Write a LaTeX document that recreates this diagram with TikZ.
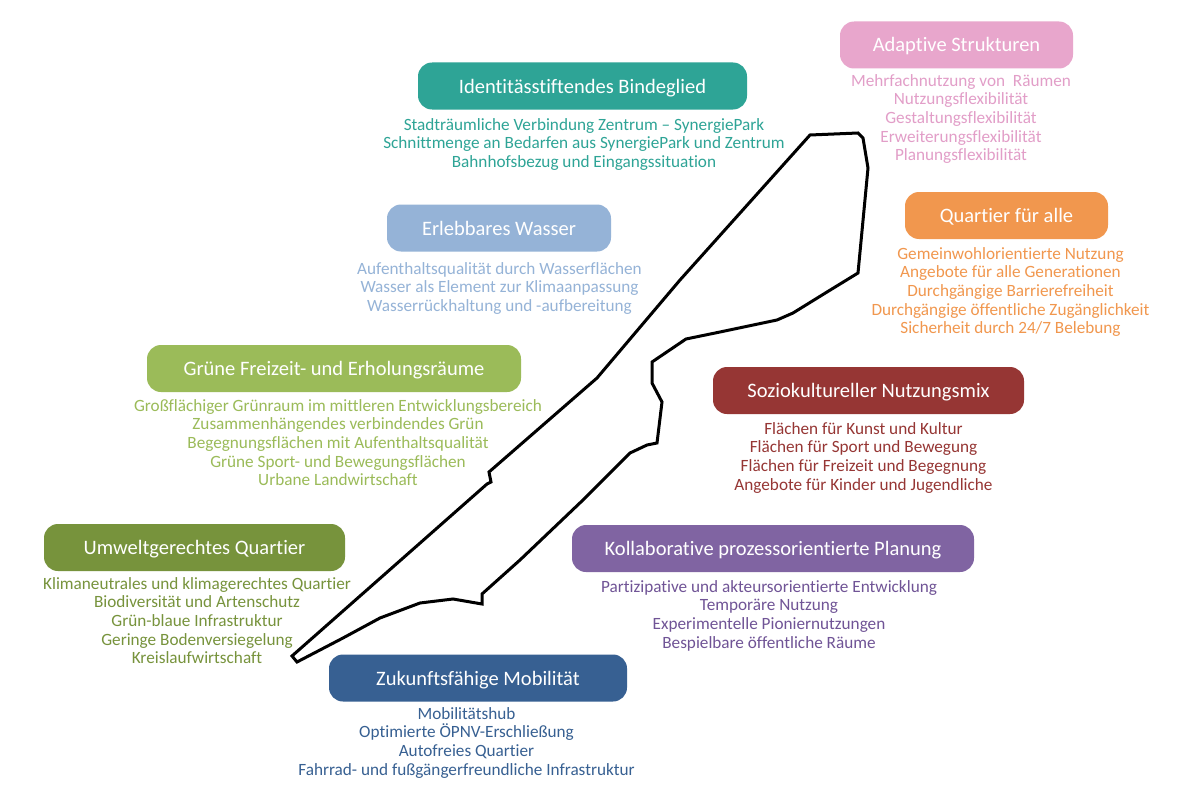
\documentclass[tikz,border=0pt]{standalone}
\usepackage{fontspec}
\setmainfont[Ligatures={NoCommon}]{Carlito}
\definecolor{cteal}{RGB}{46,164,150}
\definecolor{cpink}{RGB}{232,166,204}
\definecolor{cpinktxt}{RGB}{226,158,200}
\definecolor{clblue}{RGB}{149,179,215}
\definecolor{corange}{RGB}{241,151,78}
\definecolor{cgreen}{RGB}{155,187,89}
\definecolor{cred}{RGB}{150,54,52}
\definecolor{colive}{RGB}{119,147,60}
\definecolor{cpurple}{RGB}{128,100,162}
\definecolor{cpurpletxt}{RGB}{112,84,150}
\definecolor{cdblue}{RGB}{55,96,146}
\tikzset{
  hbox/.style={rounded corners=14pt, text=white, inner sep=0pt, minimum height=47pt,
    text height=16pt, text depth=2pt,
    font=\fontsize{20.5}{24}\selectfont},
  body/.style={anchor=north, align=center, inner sep=0pt,
    font=\fontsize{17.2}{18.7}\selectfont},
  outline/.style={draw=black, line width=3pt}
}
\begin{document}
\begin{tikzpicture}[x=1pt,y=-1pt]
\useasboundingbox (0,0) rectangle (1200,800);
\fill[white] (0,0) rectangle (1200,800);

% outline of the site
\draw[outline] (810,135) -- (858,133) -- (863,138) -- (868,168) -- (858,273) -- (827,292)
  -- (793,313) -- (777,320) -- (720,332) -- (686,339) -- (652,362) -- (652,383)
  -- (662,402) -- (657,443) -- (647,445) -- (630,453) -- (583,500) -- (520,560)
  -- (482,594) -- (482,604) -- (453,599) -- (420,603) -- (380,618) -- (343,638)
  -- (297,662) -- (292,656) -- (487,484) -- (491,482) -- (489,472) -- (597,378)
  -- (680,280) -- cycle;

% Identitaet
\node[hbox, fill=cteal, minimum width=329pt] (t1) at (582.5,86) {Identitässtiftendes Bindeglied};
\node[body, text=cteal] (b1) at (584,118) {Stadträumliche Verbindung Zentrum – SynergiePark\\Schnittmenge an Bedarfen aus SynergiePark und Zentrum\\Bahnhofsbezug und Eingangssituation};

% Adaptive
\node[hbox, fill=cpink, minimum width=233pt] (t2) at (956.5,45) {Adaptive Strukturen};
\node[body, text=cpinktxt] (b2) at (961,74) {Mehrfachnutzung von\ \ Räumen\\Nutzungsflexibilität\\Gestaltungsflexibilität\\Erweiterungsflexibilität\\Planungsflexibilität};

% Wasser
\node[hbox, fill=clblue, minimum width=224pt] (t3) at (499,228) {Erlebbares Wasser};
\node[body, text=clblue] (b3) at (499.5,262) {Aufenthaltsqualität durch Wasserflächen\\Wasser als Element zur Klimaanpassung\\Wasserrückhaltung und -aufbereitung};

% Quartier fuer alle
\node[hbox, fill=corange, minimum width=203pt] (t4) at (1006.5,215.5) {Quartier für alle};
\node[body, text=corange] (b4) at (1010.5,247) {Gemeinwohlorientierte Nutzung\\Angebote für alle Generationen\\Durchgängige Barrierefreiheit\\Durchgängige öffentliche Zugänglichkeit\\Sicherheit durch 24/7 Belebung};

% Gruene Freizeit
\node[hbox, fill=cgreen, minimum width=374pt] (t5) at (334,368.5) {Grüne Freizeit- und Erholungsräume};
\node[body, text=cgreen] (b5) at (338,399) {Großflächiger Grünraum im mittleren Entwicklungsbereich\\Zusammenhängendes verbindendes Grün\\Begegnungsflächen mit Aufenthaltsqualität\\Grüne Sport- und Bewegungsflächen\\Urbane Landwirtschaft};

% Soziokultureller
\node[hbox, fill=cred, minimum width=311pt] (t6) at (868.5,390.5) {Soziokultureller Nutzungsmix};
\node[body, text=cred] (b6) at (863.5,422) {Flächen für Kunst und Kultur\\Flächen für Sport und Bewegung\\Flächen für Freizeit und Begegnung\\Angebote für Kinder und Jugendliche};

% Umwelt
\node[hbox, fill=colive, minimum width=301pt] (t7) at (194.5,547.5) {Umweltgerechtes Quartier};
\node[body, text=colive] (b7) at (197,577) {Klimaneutrales und klimagerechtes Quartier\\Biodiversität und Artenschutz\\Grün-blaue Infrastruktur\\Geringe Bodenversiegelung\\Kreislaufwirtschaft};

% Kollaborativ
\node[hbox, fill=cpurple, minimum width=402pt] (t8) at (773,548.5) {Kollaborative prozessorientierte Planung};
\node[body, text=cpurpletxt] (b8) at (769,580) {Partizipative und akteursorientierte Entwicklung\\Temporäre Nutzung\\Experimentelle Pioniernutzungen\\Bespielbare öffentliche Räume};

% Mobilitaet
\node[hbox, fill=cdblue, minimum width=298pt] (t9) at (478,678) {Zukunftsfähige Mobilität};
\node[body, text=cdblue] (b9) at (466.5,707) {Mobilitätshub\\Optimierte ÖPNV-Erschließung\\Autofreies Quartier\\Fahrrad- und fußgängerfreundliche Infrastruktur};
\end{tikzpicture}
\end{document}
